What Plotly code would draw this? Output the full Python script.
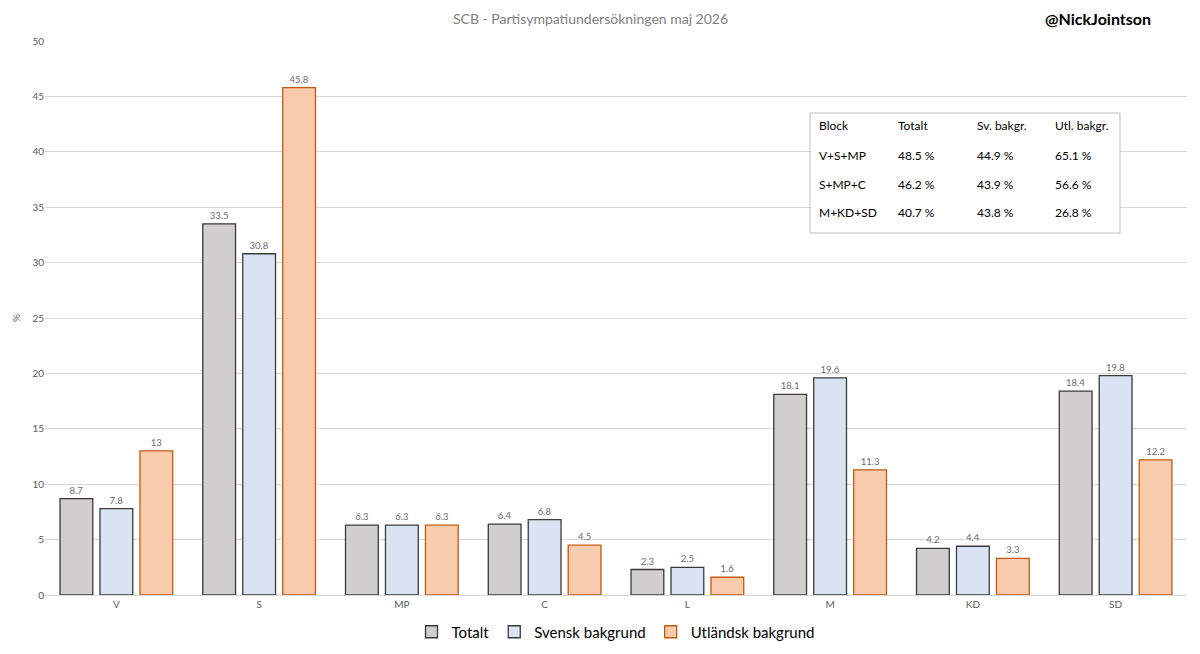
import plotly.graph_objects as go

partier = ["V", "S", "MP", "C", "L", "M", "KD", "SD"]
totalt = [8.7, 33.5, 6.3, 6.4, 2.3, 18.1, 4.2, 18.4]
svensk = [7.8, 30.8, 6.3, 6.8, 2.5, 19.6, 4.4, 19.8]
utlandsk = [13, 45.8, 6.3, 4.5, 1.6, 11.3, 3.3, 12.2]

block_header = ["Block", "Totalt", "Sv. bakgr.", "Utl. bakgr."]
block_namn = ["V+S+MP", "S+MP+C", "M+KD+SD"]
block_totalt = ["48.5 %", "46.2 %", "40.7 %"]
block_svensk = ["44.9 %", "43.9 %", "43.8 %"]
block_utl = ["65.1 %", "56.6 %", "26.8 %"]

W, H = 1200, 654
L, R, T, B = 45, 13, 41, 59
FONT = "Lato, Open Sans, sans-serif"


def px(x):
    return (x - L) / (W - L - R)


def py(y):
    return (H - B - y) / (H - T - B)


fig = go.Figure()
serier = [
    ("Totalt", totalt, "#D0CECE", "#3a3a3a"),
    ("Svensk bakgrund", svensk, "#DAE3F3", "#3a3a3a"),
    ("Utländsk bakgrund", utlandsk, "#F8CBAD", "#C55A11"),
]
for namn, vals, fyll, kant in serier:
    fig.add_trace(go.Bar(
        x=partier, y=vals, name=namn,
        marker=dict(color=fyll, line=dict(color=kant, width=1.3)),
        text=[f"{v:g}" for v in vals], textposition="outside",
        textfont=dict(size=9.5, color="#6b6b6b", family=FONT),
        cliponaxis=False,
    ))

# tabell med blockresultat
kolumn_x = [817, 896, 975, 1053]
rad_y = [126, 155, 184, 213]
rader = [block_header] + [
    [block_namn[i], block_totalt[i], block_svensk[i], block_utl[i]] for i in range(3)
]
annots = []
for r, rad in enumerate(rader):
    for c, txt in enumerate(rad):
        annots.append(dict(
            x=px(kolumn_x[c]), y=py(rad_y[r]), xref="paper", yref="paper",
            text=txt, showarrow=False, xanchor="left", yanchor="middle",
            font=dict(size=12, color="#000000", family=FONT),
        ))

annots.append(dict(
    x=px(590), y=py(18), xref="paper", yref="paper", yanchor="middle",
    text="SCB - Partisympatiundersökningen maj 2026", showarrow=False,
    font=dict(size=14, color="#7f7f7f", family=FONT),
))
annots.append(dict(
    x=px(1153), y=py(18), xref="paper", yref="paper", xanchor="right", yanchor="middle",
    text="<b>@NickJointson</b>", showarrow=False,
    font=dict(size=16, color="#000000", family=FONT),
))
annots.append(dict(
    x=px(16), y=py(318), xref="paper", yref="paper", textangle=-90,
    xanchor="center", yanchor="middle",
    text="%", showarrow=False,
    font=dict(size=10, color="#595959", family=FONT),
))

fig.update_layout(
    width=W, height=H,
    margin=dict(l=L, r=R, t=T, b=B, autoexpand=False),
    paper_bgcolor="white", plot_bgcolor="white",
    bargap=0.16, bargroupgap=0.18,
    font=dict(family=FONT, color="#595959"),
    showlegend=True,
    legend=dict(orientation="h", x=0.5, xanchor="center", y=py(632), yanchor="middle",
                font=dict(size=15, color="#000000", family=FONT), traceorder="normal",
                itemwidth=30),
    annotations=annots,
    shapes=[dict(type="rect", xref="paper", yref="paper",
                 x0=px(810), x1=px(1120), y0=py(233), y1=py(113),
                 line=dict(color="#bfbfbf", width=1), fillcolor="white", layer="above")],
    yaxis=dict(range=[0, 50], dtick=5, showgrid=True, gridcolor="#d9d9d9",
               zeroline=False, tickfont=dict(size=10, color="#595959"),
               ticks="", showline=False),
    xaxis=dict(showline=True, linecolor="#d9d9d9", tickfont=dict(size=10, color="#595959"),
               ticks=""),
)

fig.write_html("out.html", config={"displayModeBar": False},
               post_script="document.body.style.margin='0';")
